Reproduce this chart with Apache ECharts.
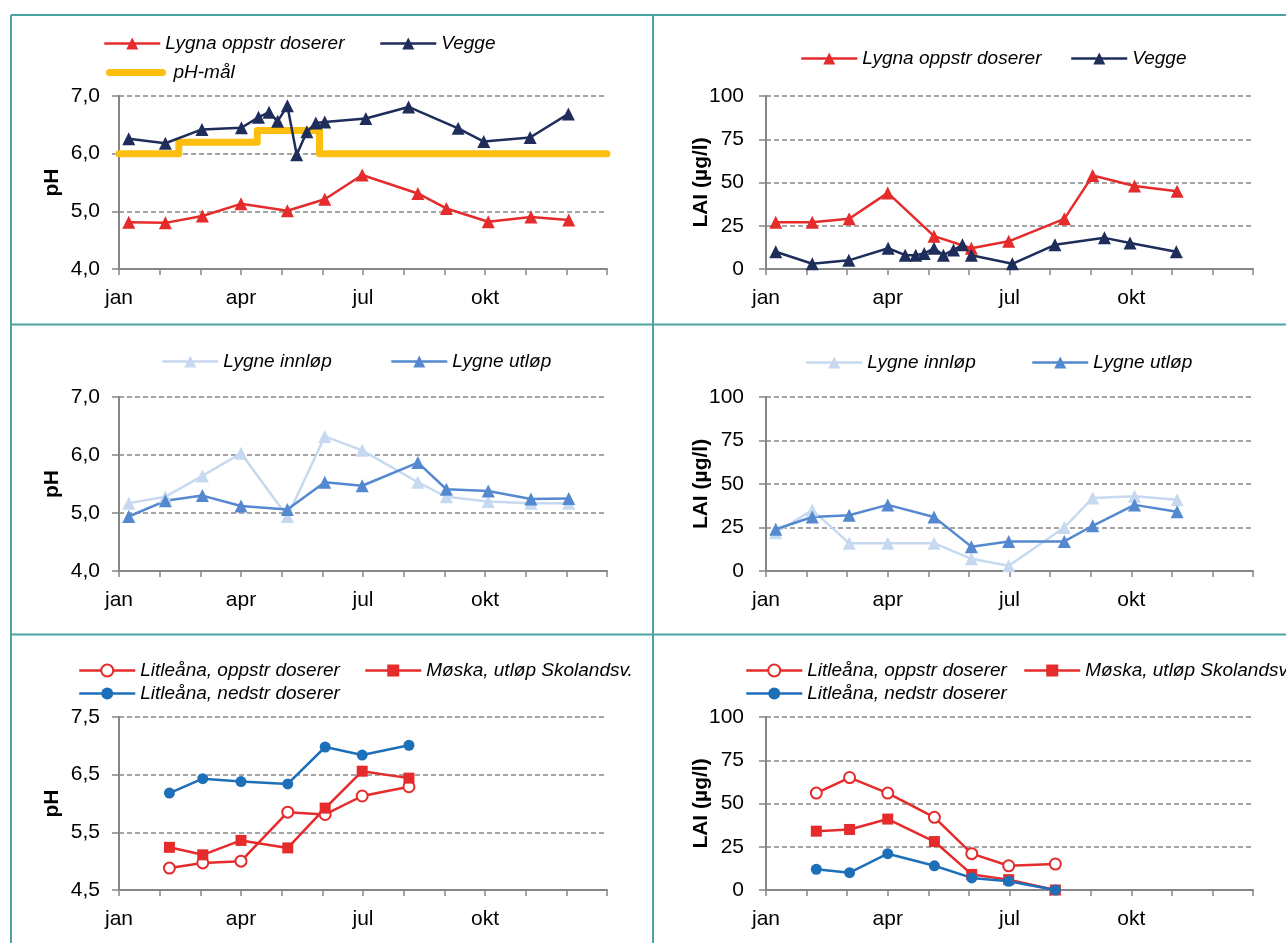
<!DOCTYPE html>
<html>
<head>
<meta charset="utf-8">
<script src="https://cdn.jsdelivr.net/npm/echarts@6/dist/echarts.min.js"></script>
<style>
  html, body { margin: 0; padding: 0; background: #ffffff; }
  #chart { width: 1286px; height: 943px; }
</style>
</head>
<body>
<div id="chart"></div>
<script>
// ---- Data -------------------------------------------------------------
// Sampling dates are given as fractional months counted from 1 January.
const monthLabels = ['jan', '', '', 'apr', '', '', 'jul', '', '', 'okt', '', '', ''];

// Lygna upstream of the doser
const lygnaDates = [0.24, 1.14, 2.05, 3.0, 4.14, 5.06, 5.98, 7.35, 8.05, 9.08, 10.13, 11.06];
const phLygnaOppstr = [4.81, 4.80, 4.92, 5.13, 5.01, 5.21, 5.63, 5.31, 5.05, 4.82, 4.90, 4.85];
const laiLygnaOppstr = [27, 27, 29, 44, 19, 12, 16, 29, 54, 48, 45];

// Vegge
const veggeDates = [0.24, 1.14, 2.04, 3.01, 3.43, 3.69, 3.9, 4.14, 4.37, 4.62, 4.84, 5.06, 6.07, 7.12, 8.34, 8.97, 10.11, 11.05];
const phVegge = [6.26, 6.18, 6.42, 6.45, 6.63, 6.72, 6.56, 6.83, 5.98, 6.38, 6.53, 6.55, 6.61, 6.81, 6.44, 6.21, 6.28, 6.69];
const laiVegge = [10, 3, 5, 12, 8, 8, 9, 12, 8, 11, 14, 8, 3, 14, 18, 15, 10];

// pH target (step changes)
const phTargetDates = [0, 1.47, 3.4, 4.93, 12];
const phTarget = [6.0, 6.2, 6.4, 6.0, 6.0];

// Lygne inlet / outlet
const phLygneInnlop = [5.17, 5.28, 5.64, 6.03, 4.94, 6.32, 6.08, 5.53, 5.28, 5.20, 5.17, 5.17];
const phLygneUtlop = [4.94, 5.21, 5.30, 5.12, 5.06, 5.53, 5.47, 5.87, 5.41, 5.38, 5.24, 5.25];
const laiLygneInnlop = [22, 35, 16, 16, 16, 7, 3, 25, 42, 43, 41];
const laiLygneUtlop = [24, 31, 32, 38, 31, 14, 17, 17, 26, 38, 34];

// Litleåna and Møska
const litleDates = [1.24, 2.06, 3.0, 4.15, 5.07, 5.98, 7.13];
const phLitleOppstr = [4.88, 4.97, 5.0, 5.85, 5.81, 6.13, 6.29];
const phMoska = [5.24, 5.11, 5.36, 5.23, 5.92, 6.56, 6.44];
const phLitleNedstr = [6.18, 6.43, 6.38, 6.34, 6.98, 6.84, 7.01];
const laiLitleOppstr = [56, 65, 56, 42, 21, 14, 15];
const laiMoska = [34, 35, 41, 28, 9, 6, 0];
const laiLitleNedstr = [12, 10, 21, 14, 7, 5, 0];

// ---- Styling -----------------------------------------------------------
const FONT = "'Liberation Sans', Arial, sans-serif";
const AXIS_GREY = '#868686';
const RED = '#e52b2b';
const NAVY = '#1f2d5b';
const YELLOW = '#fcbf10';
const LIGHT_BLUE = '#c6d9f0';
const MID_BLUE = '#5589cf';
const BLUE = '#1d70b8';
const PANEL = '#4aa3a0';

const N_LYGNA = 'Lygna oppstr doserer';
const N_VEGGE = 'Vegge';
const N_TARGET = 'pH-mål';
const N_INN = 'Lygne innløp';
const N_UT = 'Lygne utløp';
const N_LIT_OPP = 'Litleåna, oppstr doserer';
const N_MOSKA = 'Møska, utløp Skolandsv.';
const N_LIT_NED = 'Litleåna, nedstr doserer';

function pairs(xs, ys) {
  return ys.map((y, i) => [xs[i], y]);
}

// Six panels: plot area of each
const grids = [
  { left: 119, top: 96, width: 488, height: 173 },
  { left: 766, top: 96, width: 487, height: 173 },
  { left: 119, top: 397, width: 488, height: 174 },
  { left: 766, top: 397, width: 487, height: 174 },
  { left: 119, top: 717, width: 488, height: 173 },
  { left: 766, top: 717, width: 487, height: 173 }
];

function xAxis(i) {
  return {
    type: 'value', gridIndex: i, min: 0, max: 12, interval: 1,
    axisLine: { show: true, lineStyle: { color: AXIS_GREY, width: 2 } },
    axisTick: { show: true, length: 6, lineStyle: { color: AXIS_GREY, width: 1.5 } },
    axisLabel: {
      show: true, margin: 19, fontSize: 21, color: '#000', fontFamily: FONT,
      showMinLabel: true, showMaxLabel: true,
      formatter: v => monthLabels[Math.round(v)] || ''
    },
    splitLine: { show: false }
  };
}

function yAxis(i, kind) {
  const isPh = kind !== 'lai';
  const right = i % 2 === 1;
  return {
    type: 'value', gridIndex: i,
    min: kind === 'lai' ? 0 : (kind === 'ph2' ? 4.5 : 4),
    max: kind === 'lai' ? 100 : (kind === 'ph2' ? 7.5 : 7),
    interval: kind === 'lai' ? 25 : 1,
    axisLine: { show: true, lineStyle: { color: AXIS_GREY, width: 2 } },
    axisTick: { show: true, length: 7, lineStyle: { color: AXIS_GREY, width: 1.5 } },
    splitLine: { show: true, lineStyle: { color: AXIS_GREY, width: 1.5, type: [5, 3] } },
    axisLabel: {
      margin: right ? 22 : 19, fontSize: 21, color: '#000', fontFamily: FONT,
      formatter: v => isPh ? v.toFixed(1).replace('.', ',') : String(v)
    },
    name: isPh ? 'pH' : 'LAI (µg/l)',
    nameLocation: 'middle', nameRotate: 90,
    nameGap: right ? 54 : 56,
    nameMoveOverlap: false,
    nameTextStyle: { fontSize: 21, fontWeight: 'bold', color: '#000', fontFamily: FONT }
  };
}

function line(name, gi, xs, ys, color, symbol, size, extra) {
  return Object.assign({
    type: 'line', name: name, xAxisIndex: gi, yAxisIndex: gi,
    data: pairs(xs, ys),
    symbol: symbol, symbolSize: size, showAllSymbol: true,
    lineStyle: { color: color, width: 2.5 },
    itemStyle: { color: color },
    emphasis: { disabled: true },
    animation: false
  }, extra || {});
}

function legendItem(name, left, cy, extra) {
  return Object.assign({
    data: [name], left: left, top: cy - 9, padding: 0,
    itemWidth: 56, itemHeight: 15, selectedMode: false,
    lineStyle: { width: 2.5 },
    textStyle: { fontSize: 19, fontStyle: 'italic', color: '#000', fontFamily: FONT }
  }, extra || {});
}

const series = [
  // pH, Lygna / Vegge
  line(N_TARGET, 0, phTargetDates, phTarget, YELLOW, 'none', 0,
    { step: 'end', lineStyle: { color: YELLOW, width: 7, cap: 'round', join: 'round' } }),
  line(N_LYGNA, 0, lygnaDates, phLygnaOppstr, RED, 'triangle', 13),
  line(N_VEGGE, 0, veggeDates, phVegge, NAVY, 'triangle', 13),
  // LAI, Lygna / Vegge
  line(N_LYGNA, 1, lygnaDates.slice(0, laiLygnaOppstr.length), laiLygnaOppstr, RED, 'triangle', 13),
  line(N_VEGGE, 1, veggeDates.slice(0, laiVegge.length), laiVegge, NAVY, 'triangle', 13),
  // pH, Lygne
  line(N_INN, 2, lygnaDates, phLygneInnlop, LIGHT_BLUE, 'triangle', 13),
  line(N_UT, 2, lygnaDates, phLygneUtlop, MID_BLUE, 'triangle', 13),
  // LAI, Lygne
  line(N_INN, 3, lygnaDates.slice(0, laiLygneInnlop.length), laiLygneInnlop, LIGHT_BLUE, 'triangle', 13),
  line(N_UT, 3, lygnaDates.slice(0, laiLygneUtlop.length), laiLygneUtlop, MID_BLUE, 'triangle', 13),
  // pH, Litleåna / Møska
  line(N_LIT_OPP, 4, litleDates, phLitleOppstr, RED, 'emptyCircle', 11, { itemStyle: { color: RED, borderWidth: 1.5 } }),
  line(N_MOSKA, 4, litleDates, phMoska, RED, 'rect', 11),
  line(N_LIT_NED, 4, litleDates, phLitleNedstr, BLUE, 'circle', 11),
  // LAI, Litleåna / Møska
  line(N_LIT_OPP, 5, litleDates, laiLitleOppstr, RED, 'emptyCircle', 11, { itemStyle: { color: RED, borderWidth: 1.5 } }),
  line(N_MOSKA, 5, litleDates, laiMoska, RED, 'rect', 11),
  line(N_LIT_NED, 5, litleDates, laiLitleNedstr, BLUE, 'circle', 11)
];

const legends = [
  legendItem(N_LYGNA, 103, 43),
  legendItem(N_VEGGE, 379, 43),
  legendItem({ name: N_TARGET, itemStyle: { opacity: 0 } }, 106, 72, {
    itemWidth: 53,
    lineStyle: { width: 7, cap: 'round' },
    textStyle: { fontSize: 19, fontStyle: 'italic', color: '#000', fontFamily: FONT, padding: [0, 0, 0, 6] }
  }),
  legendItem(N_LYGNA, 800, 58),
  legendItem(N_VEGGE, 1070, 58),
  legendItem(N_INN, 161, 361),
  legendItem(N_UT, 390, 361),
  legendItem(N_INN, 805, 362),
  legendItem(N_UT, 1031, 362),
  legendItem(N_LIT_OPP, 78, 670),
  legendItem(N_MOSKA, 364, 670),
  legendItem(N_LIT_NED, 78, 693),
  legendItem(N_LIT_OPP, 745, 670),
  legendItem(N_MOSKA, 1023, 670),
  legendItem(N_LIT_NED, 745, 693)
];

// Teal frame dividing the six panels
const frameStyle = { stroke: PANEL, lineWidth: 2 };
const frame = [
  [11, 15, 1286, 15],
  [11, 324.5, 1286, 324.5],
  [11, 634.5, 1286, 634.5],
  [11, 15, 11, 943],
  [653, 15, 653, 943]
].map(([x1, y1, x2, y2]) => ({
  type: 'line', shape: { x1, y1, x2, y2 }, style: frameStyle, silent: true, z: 100
}));

const chart = echarts.init(document.getElementById('chart'), null, { renderer: 'canvas' });
chart.setOption({
  backgroundColor: '#ffffff',
  animation: false,
  textStyle: { fontFamily: FONT },
  grid: grids.map(g => Object.assign({ containLabel: false, outerBoundsMode: 'none' }, g)),
  xAxis: grids.map((g, i) => xAxis(i)),
  yAxis: [yAxis(0, 'ph'), yAxis(1, 'lai'), yAxis(2, 'ph'), yAxis(3, 'lai'), yAxis(4, 'ph2'), yAxis(5, 'lai')],
  legend: legends,
  series: series,
  graphic: frame
});
</script>
</body>
</html>
